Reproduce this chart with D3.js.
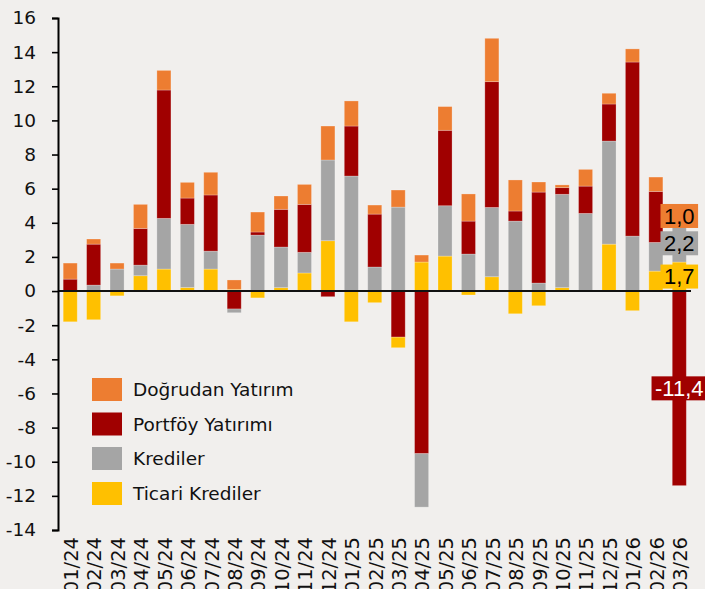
<!DOCTYPE html>
<html>
<head>
<meta charset="utf-8">
<script src="https://cdn.jsdelivr.net/npm/d3@7"></script>
<style>
  html, body { margin: 0; padding: 0; background: #f1efed; }
  svg { display: block; }
</style>
</head>
<body>
<svg id="chart" width="705" height="589"></svg>
<script>
const categories = ["01/24","02/24","03/24","04/24","05/24","06/24","07/24","08/24","09/24","10/24","11/24","12/24",
  "01/25","02/25","03/25","04/25","05/25","06/25","07/25","08/25","09/25","10/25","11/25","12/25","01/26","02/26","03/26"];
const dogrudan = [0.94,0.30,0.35,1.41,1.15,0.92,1.33,0.55,1.17,0.78,1.17,1.99,1.47,0.53,1.00,0.41,1.39,1.59,2.54,1.82,0.59,0.16,0.98,0.63,0.77,0.84,1.0];
const portfoy  = [0.70,2.40,0,2.15,7.52,1.54,3.29,-1.05,0.18,2.21,2.81,-0.33,2.93,3.10,-2.70,-9.53,4.42,1.93,7.37,0.59,5.33,0.39,1.60,2.17,10.20,2.99,-11.4];
const krediler = [0,0.35,1.29,0.62,2.97,3.70,1.05,-0.22,3.28,2.38,1.21,4.73,6.74,1.41,4.92,-3.13,2.95,2.17,4.06,4.10,0.47,5.47,4.55,6.04,3.22,1.68,2.2];
const ticari   = [-1.80,-1.68,-0.28,0.90,1.29,0.21,1.29,0.10,-0.40,0.20,1.06,2.95,-1.80,-0.68,-0.62,1.70,2.05,-0.23,0.84,-1.33,-0.86,0.20,0,2.75,-1.15,1.17,1.7];
const yTicks = [-14,-12,-10,-8,-6,-4,-2,0,2,4,6,8,10,12,14,16];

const seriesNames = ["Ticari Krediler","Krediler","Portföy Yatırımı","Doğrudan Yatırım"];
const seriesValues = [ticari, krediler, portfoy, dogrudan];
const colors = ["#FFC000","#A5A5A5","#A00000","#ED7D31"];
const labelTextColors = ["#000","#000","#fff","#000"];

const svg = d3.select("#chart");
const x = d3.scaleBand().domain(categories).range([58.5, 691]).paddingInner(0.4).paddingOuter(0.2);
const y = d3.scaleLinear().domain([-14, 16]).range([530, 18]);

// stacking: positives in series order, negatives in reverse order
const segs = [];
categories.forEach((c, i) => {
  let pos = 0;
  for (let s = 0; s < 4; s++) {
    const v = seriesValues[s][i];
    if (v > 0) { segs.push({c, s, i, y0: pos, y1: pos + v, v}); pos += v; }
  }
  let neg = 0;
  for (let s = 3; s >= 0; s--) {
    const v = seriesValues[s][i];
    if (v < 0) { segs.push({c, s, i, y0: neg + v, y1: neg, v}); neg += v; }
  }
});

svg.append("g").selectAll("rect").data(segs).join("rect")
  .attr("x", d => x(d.c))
  .attr("width", x.bandwidth())
  .attr("y", d => y(d.y1))
  .attr("height", d => y(d.y0) - y(d.y1))
  .attr("fill", d => colors[d.s])
  .attr("stroke", "rgba(255,255,255,0.3)")
  .attr("stroke-width", 0.8);

// zero line
svg.append("line")
  .attr("x1", 58).attr("x2", 691)
  .attr("y1", y(0)).attr("y2", y(0))
  .attr("stroke", "#111").attr("stroke-width", 2);

// y axis
const yAxis = svg.append("g").attr("transform", "translate(58,0)")
  .call(d3.axisLeft(y).tickValues(yTicks).tickSize(6).tickSizeOuter(6).tickPadding(16).tickFormat(d => String(d)));
yAxis.select(".domain").attr("stroke", "#000").attr("stroke-width", 2);
yAxis.selectAll(".tick line").attr("stroke", "#000").attr("stroke-width", 1.6);
yAxis.selectAll(".tick text")
  .attr("font-family", "DejaVu Sans").attr("font-size", 18.5).attr("fill", "#111");

// x labels
svg.append("g").selectAll("text").data(categories).join("text")
  .attr("transform", d => `translate(${x(d) + x.bandwidth()/2 + 1},537) rotate(-90)`)
  .attr("text-anchor", "end")
  .attr("dy", "0.35em")
  .attr("font-family", "DejaVu Sans").attr("font-size", 19.5).attr("fill", "#111")
  .text(d => d);

// labels on last bar
const last = categories.length - 1;
const fmt = v => d3.format(".1f")(v).replace(".", ",").replace("\u2212", "-");
const lastSegs = segs.filter(d => d.i === last);
const lg = svg.append("g");
lastSegs.forEach(d => {
  const cx = x(d.c) + x.bandwidth()/2;
  const cy = y((d.y0 + d.y1) / 2);
  const t = lg.append("text")
    .attr("x", cx).attr("y", cy).attr("dy", "0.36em")
    .attr("text-anchor", "middle")
    .attr("font-family", "Liberation Sans, Arial, sans-serif").attr("font-size", 22)
    .attr("fill", labelTextColors[d.s])
    .text(fmt(d.v));
  const w = t.node().getComputedTextLength() + 7;
  lg.insert("rect", () => t.node())
    .attr("x", cx - w/2).attr("y", cy - 12).attr("width", w).attr("height", 24)
    .attr("fill", colors[d.s]);
});

// legend
const legendOrder = [3, 2, 1, 0];
const legendTops = [378, 412.5, 447, 482];
const leg = svg.append("g");
legendOrder.forEach((s, k) => {
  leg.append("rect").attr("x", 92).attr("y", legendTops[k]).attr("width", 30).attr("height", 23).attr("fill", colors[s]);
  leg.append("text").attr("x", 133).attr("y", legendTops[k] + 11.5).attr("dy", "0.36em")
    .attr("font-family", "DejaVu Sans").attr("font-size", 18.5).attr("fill", "#111")
    .text(seriesNames[s]);
});
</script>
</body>
</html>
